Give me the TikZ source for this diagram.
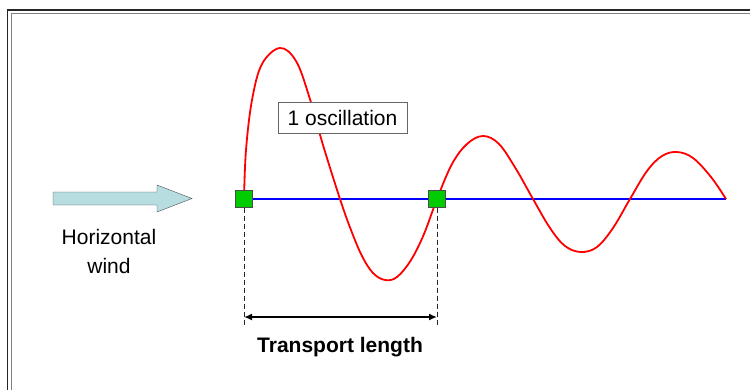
\documentclass[tikz,border=0pt]{standalone}
\usepackage{fontspec}
\setmainfont{Liberation Sans}
\usetikzlibrary{arrows.meta, positioning, calc}
\definecolor{windfill}{RGB}{183,221,224}
\definecolor{markgreen}{RGB}{0,204,0}

\begin{document}
\begin{tikzpicture}[x=1pt, y=-1pt, font=\fontsize{21}{29}\selectfont,
    wave/.style={line width=1.8pt, red, line join=round},
    baseline/.style={line width=1.8pt, blue},
    marker/.style={draw=black!70, fill=markgreen, minimum size=17pt, inner sep=0pt},
    label/.style={draw=black!60, fill=white, minimum width=129pt, minimum height=31pt, inner sep=0pt}]
    \useasboundingbox (0,0) rectangle (750,389);
    \clip (0,0) rectangle (750,389);

    % Frame
    \draw[line width=1.5pt, black!85] (7.5,10) rectangle (760,400);
    \draw[line width=1pt, gray] (11,13.5) rectangle (760,400);

    % Wind arrow
    \draw[black!70, fill=windfill]
      (53,192) -- (157,192) -- (157,185) -- (192,198.5)
      -- (157,212) -- (157,205) -- (53,205) -- cycle;
    \node[align=center] (wind) at (109,251) {Horizontal\\wind};

    % Reference line
    \coordinate (s) at (244,199);
    \coordinate (e) at (437,199);
    \coordinate (tail) at (726,199);
    \draw[baseline] (s) -- (tail);

    % Oscillating path
    \draw[wave] plot[smooth, tension=0.6] coordinates {
        (244,199) (246,150) (252,100) (262,64) (280,48) (296,61)
        (309,96) (323,145) (340,199) (351,230) (362,256) (373,273)
        (385,280) (397,277) (411,260) (424,234) (437,199) (452,164)
        (467,144) (483,136) (499,144) (516,169) (533,199) (550,228)
        (565,246) (581,252) (597,247) (613,228) (630,199) (647,171)
        (662,156) (677,152) (693,158) (711,177) (726,199)
      };

    \node[label] (osc) at (342.5,117.5) {1 oscillation};

    % Markers
    \node[marker] (m1) at (s) {};
    \node[marker] (m2) at (e) {};

    % Transport length
    \coordinate (l1) at (244,327);
    \coordinate (l2) at (437,327);
    \draw[black!85, dash pattern=on 5pt off 3pt] (m1.south) -- (l1);
    \draw[black!85, dash pattern=on 5pt off 3pt] (m2.south) -- (l2);
    \draw[line width=1.8pt, {Latex[length=8pt,width=7pt]}-{Latex[length=8pt,width=7pt]}]
      ($(l1)+(0,-10)$) -- ($(l2)+(0,-10)$);
    \node[anchor=base, font=\fontsize{21}{25}\selectfont\bfseries] (len) at (340,352) {Transport length};
  \end{tikzpicture}
\end{document}
